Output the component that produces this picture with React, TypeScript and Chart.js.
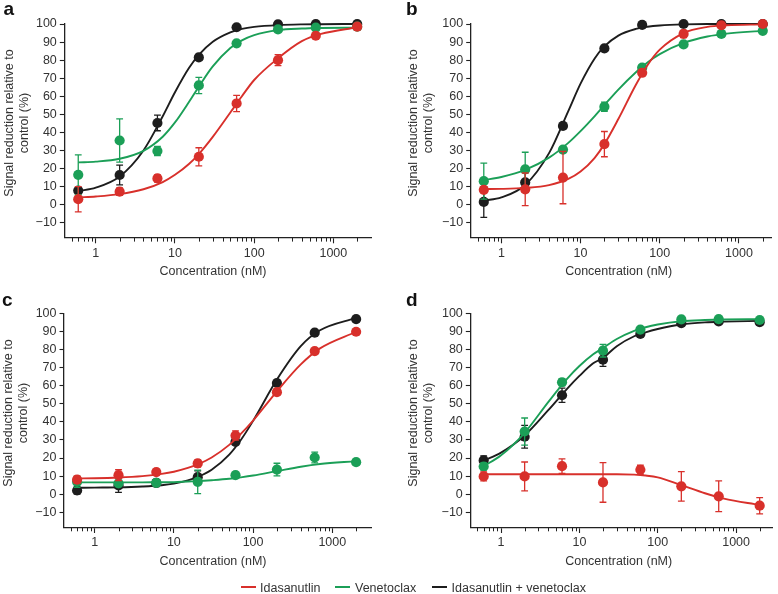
import React, { useEffect, useRef } from 'react';
import { Chart, registerables } from 'chart.js';

Chart.register(...registerables);

const FONT = '"Liberation Sans", Arial, Helvetica, sans-serif';
const TEXT = '#333333';
const AXIS = '#222222';
const RED = '#d8302b';
const GREEN = '#1b9f57';
const BLACK = '#1d1d1d';

// ---------- data ----------
const concentrations = [0.6, 2, 6, 20, 60, 200, 600, 2000];
const curveX = [0.6, 1, 2, 4, 7, 10, 15, 20, 30, 50, 70, 100, 200, 400, 700, 2000];
const xMajorTicks = [1, 10, 100, 1000];
const xMinorTicks = [0.5, 0.6, 0.7, 0.8, 0.9, 2, 3, 4, 5, 6, 7, 8, 9, 20, 30, 40, 50, 60, 70, 80, 90, 200, 300, 400, 500, 600, 700, 800, 900, 2000];
const yTicks = [-10, 0, 10, 20, 30, 40, 50, 60, 70, 80, 90, 100];
const seriesNames = ['Idasanutlin', 'Venetoclax', 'Idasanutlin + venetoclax'];
const seriesColors = [RED, GREEN, BLACK];
const panelLetters = ['a', 'b', 'c', 'd'];
const xTitle = 'Concentration (nM)';
const yTitleLines = ['Signal reduction relative to', 'control (%)'];

// panel a
const aIdaValues = [3, 7.2, 14.5, 26.5, 56, 80, 93.5, 98.5];
const aIdaErrors = [7, 2, 2, 5, 4.5, 3, 1.5, 1];
const aIdaCurve = [4, 4.5, 5.8, 8.5, 12.5, 16.5, 22.5, 28, 37.5, 51, 60, 69, 81, 90.5, 94.5, 98.2];
const aVenValues = [16.5, 35.5, 29.7, 66, 89.3, 97, 98, 98.5];
const aVenErrors = [11, 12, 2.5, 4.5, 1.5, 1, 0.5, 0.5];
const aVenCurve = [23.4, 23.8, 25.4, 29.8, 37.6, 45.5, 56.8, 65.3, 76.5, 86.7, 90.9, 93.8, 96.6, 97.5, 97.8, 98];
const aComboValues = [7.8, 16.4, 45.2, 81.5, 98.2, 99.8, 100, 100];
const aComboErrors = [1, 5.5, 4.3, 1.5, 0.5, 0.5, 0.5, 0.5];
const aComboCurve = [7.5, 9.4, 15.6, 30, 48.9, 62.2, 75.6, 82.9, 90.2, 95.4, 97.3, 98.4, 99.4, 99.8, 99.9, 100];

// panel b
const bIdaValues = [8.2, 8.5, 15, 33.5, 73, 94.5, 99.3, 100];
const bIdaErrors = [1.5, 9, 14.5, 7, 1.5, 2, 0.5, 0.5];
const bIdaCurve = [8.6, 8.7, 9.25, 10.8, 14.2, 18.3, 25.8, 33.5, 47.4, 66.4, 77.2, 85.8, 95, 98.4, 99.3, 99.8];
const bVenValues = [13, 19.5, 30.5, 54.2, 75.8, 88.7, 94.5, 96.2];
const bVenErrors = [10, 9.5, 1.5, 2.5, 1.5, 1.5, 0.5, 0.5];
const bVenCurve = [13.6, 15.3, 19.2, 26, 34.2, 40.7, 48.9, 55.1, 63.7, 73.3, 78.7, 83.3, 89.5, 93.1, 94.7, 96.2];
const bComboValues = [1.5, 12.3, 43.6, 86.5, 99.5, 100, 100, 100];
const bComboErrors = [8.5, 5.5, 1, 1, 0.5, 0.5, 0.5, 0.5];
const bComboCurve = [2.2, 4, 10.9, 28.5, 51.8, 67, 80.8, 87.6, 93.6, 97.3, 98.5, 99.2, 99.8, 100, 100, 100];

// panel c
const cIdaValues = [8, 10.5, 12.2, 17, 32.5, 56.5, 79.3, 90];
const cIdaErrors = [2, 3, 1.5, 2, 2.5, 1.5, 1, 1];
const cIdaCurve = [8.7, 8.8, 9.2, 10, 11.2, 12.4, 14.5, 16.5, 20.3, 27.3, 33.4, 40.8, 57, 71.9, 80.8, 90];
const cVenValues = [6.8, 6, 6.2, 6.8, 10.5, 13.6, 20.3, 17.7];
const cVenErrors = [3, 1.5, 1.5, 6.5, 1.5, 3.5, 3, 1];
const cVenCurve = [6.5, 6.5, 6.5, 6.5, 6.6, 6.6, 7, 7.2, 7.7, 8.5, 9.3, 10.3, 12.75, 15.2, 16.7, 18.3];
const cComboValues = [2, 4.8, 6.2, 9.4, 29, 61.6, 89.5, 97];
const cComboErrors = [2, 3.8, 2, 3.5, 1.5, 1.5, 1, 1];
const cComboCurve = [3.5, 3.6, 3.75, 4.2, 4.9, 5.8, 7.6, 9.5, 13.5, 21.9, 30, 40.6, 63.5, 82, 90.8, 97.7];

// panel d
const dIdaValues = [9.8, 9.8, 15.5, 6.5, 13.5, 4.3, -1.2, -6.4];
const dIdaErrors = [2.5, 8, 4, 11, 2.5, 8.2, 8.5, 4.5];
const dIdaCurve = [11, 11, 11, 11, 11, 11, 11, 11, 11, 10.8, 10.3, 9.3, 5, 0.5, -2.5, -6];
const dVenValues = [15.3, 34.7, 62, 79.5, 91.2, 96.8, 97, 96.5];
const dVenErrors = [2, 7.5, 2, 3.5, 1.5, 1, 0.8, 0.8];
const dVenCurve = [15.5, 21.5, 34, 51, 64, 71, 77.5, 81, 86, 90.5, 92.5, 94, 95.8, 96.5, 96.8, 97];
const dComboValues = [18.7, 31.8, 54.8, 74.5, 88.8, 94.7, 95.7, 95.3];
const dComboErrors = [2.5, 6.3, 4, 3.7, 1.5, 1, 1, 1.5];
const dComboCurve = [18.5, 23, 32.5, 46.5, 58.5, 65.5, 72.5, 75.5, 82, 87.5, 89.7, 91.5, 94, 95.2, 95.6, 96];

const panelSeries = [
  [[aIdaValues, aIdaErrors, aIdaCurve], [aVenValues, aVenErrors, aVenCurve], [aComboValues, aComboErrors, aComboCurve]],
  [[bIdaValues, bIdaErrors, bIdaCurve], [bVenValues, bVenErrors, bVenCurve], [bComboValues, bComboErrors, bComboCurve]],
  [[cIdaValues, cIdaErrors, cIdaCurve], [cVenValues, cVenErrors, cVenCurve], [cComboValues, cComboErrors, cComboCurve]],
  [[dIdaValues, dIdaErrors, dIdaCurve], [dVenValues, dVenErrors, dVenCurve], [dComboValues, dComboErrors, dComboCurve]],
];

// ---------- layout ----------
const CW = 389;
const CH = 290;
const PLOT_H = 213.8;
const panelLayout = [
  { left: 0, top: 0, yWidth: 64.3, padTop: 24, padRight: 17.3, xMin: 0.4, xMax: 3050, yMin: -18.36,
    titleX: 15.5, titleY: 123.3, xTitleX: 213, xTitleTop: 265.2, letterX: 3.5, letterTop: -1.1 },
  { left: 389, top: 0, yWidth: 81.7, padTop: 24, padRight: 6.2, xMin: 0.41, xMax: 2600, yMin: -18.36,
    titleX: 419.5, titleY: 123.3, xTitleX: 618.7, xTitleTop: 265.2, letterX: 406, letterTop: -1.1 },
  { left: 0, top: 290, yWidth: 64, padTop: 23.7, padRight: 17.8, xMin: 0.41, xMax: 3100, yMin: -18.5,
    titleX: 15, titleY: 413, xTitleX: 213, xTitleTop: 555.2, letterX: 2, letterTop: 290.4 },
  { left: 389, top: 290, yWidth: 81.3, padTop: 23.7, padRight: 1.8, xMin: 0.405, xMax: 2950, yMin: -18.5,
    titleX: 419.5, titleY: 413, xTitleX: 618.7, xTitleTop: 555.2, letterX: 406, letterTop: 290.4 },
];

const errorBarPlugin = {
  id: 'errorBars',
  beforeDatasetDraw(chart: any, args: any) {
    const ds = chart.data.datasets[args.index];
    const errs = ds.errorBars;
    if (!errs) return;
    const xs = chart.scales.x;
    const ys = chart.scales.y;
    const ctx = chart.ctx;
    ctx.save();
    ctx.strokeStyle = ds.backgroundColor;
    ctx.lineWidth = 1.3;
    ds.data.forEach((p: any, i: number) => {
      const e = errs[i];
      if (!e) return;
      const px = xs.getPixelForValue(p.x);
      const t = ys.getPixelForValue(p.y + e);
      const b = ys.getPixelForValue(p.y - e);
      ctx.beginPath();
      ctx.moveTo(px, t);
      ctx.lineTo(px, b);
      ctx.moveTo(px - 3.4, t);
      ctx.lineTo(px + 3.4, t);
      ctx.moveTo(px - 3.4, b);
      ctx.lineTo(px + 3.4, b);
      ctx.stroke();
    });
    ctx.restore();
  },
};

const minorTickPlugin = {
  id: 'minorTicks',
  afterDraw(chart: any) {
    const xs = chart.scales.x;
    const ctx = chart.ctx;
    ctx.save();
    ctx.strokeStyle = AXIS;
    ctx.lineWidth = 1;
    xMinorTicks.forEach((v) => {
      if (v < xs.min || v > xs.max) return;
      const px = Math.round(xs.getPixelForValue(v)) + 0.5;
      ctx.beginPath();
      ctx.moveTo(px, xs.top);
      ctx.lineTo(px, xs.top + 3.8);
      ctx.stroke();
    });
    ctx.restore();
  },
};

function Panel({ index }: { index: number }) {
  const ref = useRef<HTMLCanvasElement | null>(null);
  const L = panelLayout[index];
  useEffect(() => {
    const canvas = ref.current;
    if (!canvas) return;
    const datasets: any[] = [];
    panelSeries[index].forEach((s, si) => {
      const [values, errors, curve] = s;
      datasets.push({
        label: seriesNames[si] + ' fit',
        data: curveX.map((x, i) => ({ x, y: curve[i] })),
        borderColor: seriesColors[si],
        backgroundColor: seriesColors[si],
        borderWidth: 1.9,
        pointRadius: 0,
        cubicInterpolationMode: 'monotone',
        fill: false,
        clip: false,
      });
      datasets.push({
        label: seriesNames[si],
        data: concentrations.map((x, i) => ({ x, y: values[i] })),
        errorBars: errors,
        showLine: false,
        borderColor: seriesColors[si],
        backgroundColor: seriesColors[si],
        pointRadius: 5.1,
        pointBorderWidth: 0,
        pointBackgroundColor: seriesColors[si],
        clip: false,
      });
    });
    const chart = new Chart(canvas, {
      type: 'line',
      data: { datasets },
      plugins: [errorBarPlugin, minorTickPlugin],
      options: {
        animation: false,
        responsive: false,
        maintainAspectRatio: false,
        events: [],
        layout: { padding: { left: 0, top: L.padTop, right: L.padRight, bottom: 0 } },
        plugins: { legend: { display: false }, tooltip: { enabled: false } },
        scales: {
          x: {
            type: 'logarithmic',
            position: 'bottom',
            min: L.xMin,
            max: L.xMax,
            grid: { display: true, drawOnChartArea: false, drawTicks: true, tickLength: 5.5, tickColor: AXIS, tickWidth: 1.1 },
            border: { display: true, color: AXIS, width: 1.3 },
            ticks: {
              autoSkip: false,
              maxRotation: 0,
              padding: 2.5,
              color: TEXT,
              font: { family: FONT, size: 12.5 },
              callback: (v: any) => String(v),
            },
            afterBuildTicks: (axis: any) => {
              axis.ticks = xMajorTicks.map((v) => ({ value: v }));
            },
            afterFit: (scale: any) => {
              scale.height = CH - L.padTop - PLOT_H;
            },
          },
          y: {
            type: 'linear',
            min: L.yMin,
            max: 100,
            grid: { display: true, drawOnChartArea: false, drawTicks: true, tickLength: 4.5, tickColor: AXIS, tickWidth: 1.1 },
            border: { display: true, color: AXIS, width: 1.3 },
            ticks: {
              autoSkip: false,
              padding: 3,
              color: TEXT,
              font: { family: FONT, size: 12.5 },
              callback: (v: any) => (v < 0 ? '\u2212' + Math.abs(v) : String(v)),
            },
            afterBuildTicks: (axis: any) => {
              axis.ticks = yTicks.map((v) => ({ value: v }));
            },
            afterFit: (scale: any) => {
              scale.width = L.yWidth;
            },
          },
        },
      } as any,
    });
    return () => chart.destroy();
  }, [index]);
  return (
    <canvas
      ref={ref}
      width={CW}
      height={CH}
      style={{ position: 'absolute', left: L.left, top: L.top, width: CW, height: CH, display: 'block' }}
    />
  );
}

const legendLayout = [
  { lineX: 241, textX: 260 },
  { lineX: 335, textX: 355 },
  { lineX: 432, textX: 451.5 },
];

export default function App() {
  const textBase: any = { position: 'absolute', fontFamily: FONT, color: TEXT, fontSize: 12.5, lineHeight: 1, whiteSpace: 'nowrap' };
  return (
    <div style={{ position: 'fixed', left: 0, top: 0, width: 778, height: 594, background: '#ffffff', overflow: 'hidden' }}>
      {panelLayout.map((L, i) => (
        <React.Fragment key={i}>
          <Panel index={i} />
          <div style={{ ...textBase, left: L.letterX, top: L.letterTop, fontSize: 19, fontWeight: 'bold', color: '#111' }}>
            {panelLetters[i]}
          </div>
          <div
            style={{
              ...textBase,
              left: L.titleX,
              top: L.titleY,
              lineHeight: '14.5px',
              textAlign: 'center',
              transform: 'translate(-50%, -50%) rotate(-90deg)',
            }}
          >
            {yTitleLines[0]}
            <br />
            {yTitleLines[1]}
          </div>
          <div style={{ ...textBase, left: L.xTitleX, top: L.xTitleTop, transform: 'translateX(-50%)' }}>{xTitle}</div>
        </React.Fragment>
      ))}
      {legendLayout.map((g, i) => (
        <React.Fragment key={'lg' + i}>
          <div style={{ position: 'absolute', left: g.lineX, top: 586.3, width: 15, height: 2, background: seriesColors[i] }} />
          <div style={{ ...textBase, left: g.textX, top: 581.9 }}>{seriesNames[i]}</div>
        </React.Fragment>
      ))}
    </div>
  );
}
